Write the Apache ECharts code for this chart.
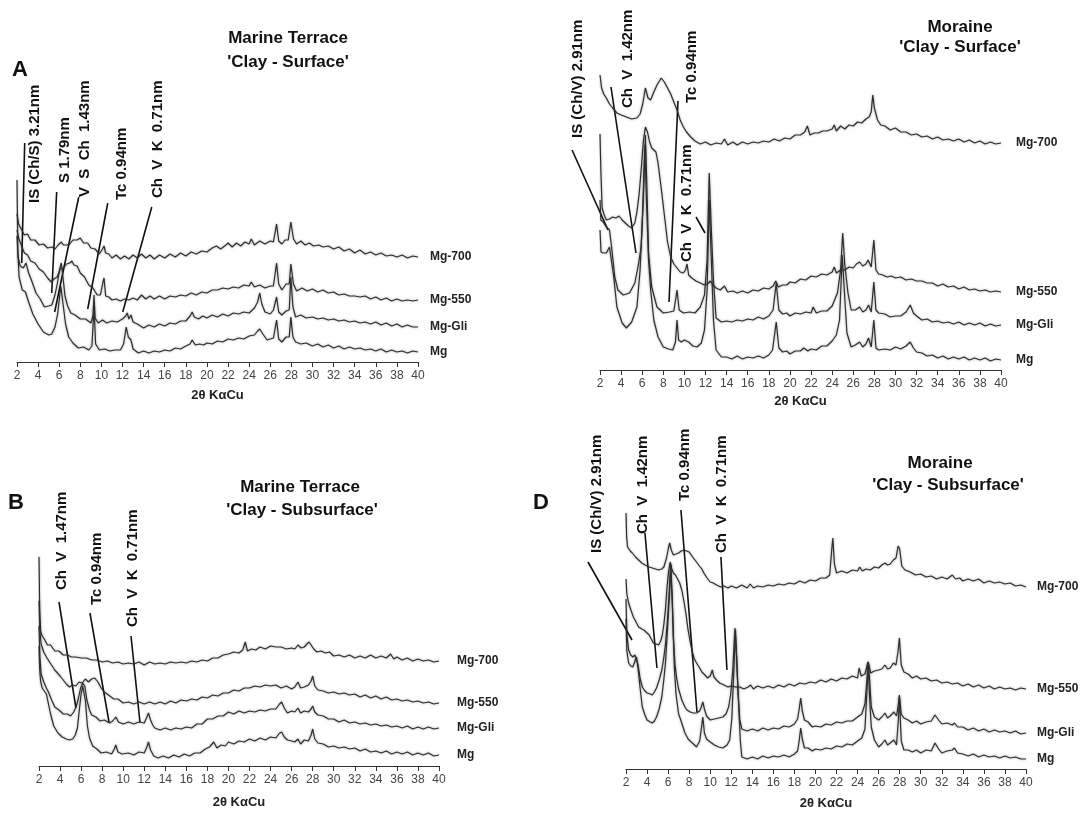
<!DOCTYPE html>
<html>
<head>
<meta charset="utf-8">
<script src="https://cdn.jsdelivr.net/npm/echarts@6/dist/echarts.min.js"></script>
<style>
html, body { margin: 0; padding: 0; background: #fff; }
#chart { width: 1087px; height: 816px; }
</style>
</head>
<body>
<div id="chart"></div>
<script>
// XRD patterns, [2θ, intensity offset]
// A - Marine Terrace, clay surface
const A_MG700 = [[2.0,148],[2.15,138],[2.4,133],[2.7,127],[3.0,128],[3.3,122],[3.7,122],[4.1,117],[4.5,118],[4.9,114],[5.3,115],[5.6,113],[5.9,117],[6.2,120],[6.4,117],[6.7,117],[7.0,118],[7.3,122],[7.7,122],[8.0,124],[8.3,119],[8.7,119],[9.0,114],[9.4,113],[9.8,108],[10.1,113],[10.25,116],[10.4,109],[10.7,108],[11.0,104],[11.4,107],[11.8,103],[12.2,106],[12.6,103],[13.0,107],[13.4,104],[13.8,108],[14.2,104],[14.6,107],[15.0,103],[15.5,107],[16.0,104],[16.5,108],[17.0,105],[17.5,109],[18.0,106],[18.5,110],[19.0,108],[19.5,111],[20.0,110],[20.5,114],[20.9,116],[21.3,113],[21.8,117],[22.0,119],[22.4,115],[22.8,119],[23.2,116],[23.6,120],[24.0,118],[24.2,123],[24.5,117],[25.0,121],[25.5,118],[26.0,121],[26.3,120],[26.6,138],[26.8,121],[27.1,118],[27.4,122],[27.7,122],[27.95,140],[28.2,123],[28.5,118],[28.9,121],[29.3,117],[29.7,119],[30.1,116],[30.6,117],[31.0,115],[31.5,116],[32.0,113],[32.5,115],[33.0,111],[33.5,113],[34.0,109],[34.5,112],[35.0,108],[35.5,110],[36.0,107],[36.5,109],[37.0,106],[37.5,107],[38.0,105],[38.5,107],[39.0,104],[39.5,106],[40.0,105]];
const A_MG550 = [[2.0,132],[2.15,124],[2.4,117],[2.7,109],[3.0,107],[3.3,101],[3.7,99],[4.1,93],[4.5,90],[4.9,84],[5.25,80],[5.5,83],[5.8,85],[6.1,93],[6.4,94],[6.7,98],[7.0,99],[7.2,101],[7.4,97],[7.7,96],[8.0,89],[8.4,85],[8.8,77],[9.2,74],[9.6,67],[9.9,67],[10.15,80],[10.25,84],[10.4,66],[10.7,65],[11.0,62],[11.4,63],[11.8,61],[12.2,63],[12.6,62],[13.0,64],[13.4,62],[13.8,67],[14.2,63],[14.6,66],[15.0,63],[15.5,66],[16.0,63],[16.5,66],[17.0,65],[17.5,67],[18.0,66],[18.5,69],[19.0,67],[19.5,70],[20.0,69],[20.5,72],[21.0,72],[21.5,74],[22.0,73],[22.5,75],[23.0,74],[23.5,77],[24.0,76],[24.2,80],[24.5,75],[25.0,77],[25.5,74],[26.0,76],[26.3,76],[26.6,99],[26.8,78],[27.1,72],[27.5,78],[27.8,78],[27.95,98],[28.2,78],[28.5,71],[29.0,74],[29.5,71],[30.0,73],[30.5,70],[31.0,72],[31.5,69],[32.0,70],[32.5,67],[33.0,68],[33.5,66],[34.0,66],[34.5,65],[35.0,66],[35.5,63],[36.0,65],[36.5,62],[37.0,64],[37.5,61],[38.0,63],[38.5,61],[39.0,62],[39.5,61],[40.0,62]];
const A_MGGLI = [[2.0,126],[2.1,105],[2.3,96],[2.6,94],[2.85,99],[3.1,89],[3.4,81],[3.8,69],[4.2,63],[4.6,55],[5.0,56],[5.3,57],[5.6,67],[5.85,80],[6.05,93],[6.2,99],[6.35,85],[6.55,66],[6.8,56],[7.1,49],[7.5,47],[8.0,43],[8.5,43],[9.0,39],[9.2,46],[9.3,67],[9.4,44],[9.7,39],[10.1,42],[10.5,39],[11.0,41],[11.5,40],[12.0,43],[12.3,46],[12.45,49],[12.6,43],[12.8,47],[13.0,40],[13.4,38],[14.0,34],[14.5,37],[15.0,35],[15.5,38],[16.0,36],[16.5,39],[17.0,38],[17.5,41],[18.0,41],[18.4,46],[18.6,50],[18.8,45],[19.2,43],[19.6,46],[20.0,44],[20.5,47],[21.0,45],[21.5,48],[22.0,46],[22.5,49],[23.0,48],[23.5,50],[24.0,49],[24.5,54],[24.8,60],[25.0,69],[25.2,58],[25.5,50],[26.0,48],[26.3,52],[26.6,65],[26.8,50],[27.1,47],[27.5,51],[27.8,52],[27.95,85],[28.15,55],[28.4,45],[28.9,47],[29.4,44],[30.0,45],[30.5,43],[31.0,44],[31.5,42],[32.0,43],[32.5,41],[33.0,42],[33.5,40],[34.0,41],[34.5,39],[35.0,40],[35.5,38],[36.0,40],[36.5,37],[37.0,39],[37.5,36],[38.0,38],[38.5,35],[39.0,37],[39.5,35],[40.0,35]];
const A_MG = [[2.0,182],[2.08,110],[2.2,85],[2.5,72],[2.8,70],[3.1,60],[3.5,48],[4.0,38],[4.5,30],[5.0,27],[5.3,28],[5.6,35],[5.85,48],[6.0,62],[6.15,76],[6.25,78],[6.4,55],[6.6,38],[6.9,25],[7.3,19],[7.8,14],[8.3,15],[8.8,12],[9.1,16],[9.3,55],[9.45,18],[9.8,12],[10.3,13],[10.8,11],[11.3,12],[11.8,12],[12.1,18],[12.35,35],[12.55,25],[12.8,22],[13.0,13],[13.5,9],[14.0,11],[14.5,9],[15.0,11],[15.5,10],[16.0,12],[16.5,11],[17.0,14],[17.5,13],[18.0,16],[18.4,18],[18.6,22],[18.9,17],[19.3,18],[19.7,17],[20.0,19],[20.5,18],[21.0,21],[21.5,20],[22.0,23],[22.5,22],[23.0,24],[23.5,23],[24.0,26],[24.5,27],[24.8,31],[25.0,33],[25.3,28],[25.7,22],[26.0,23],[26.3,24],[26.6,42],[26.8,23],[27.1,20],[27.5,25],[27.8,25],[27.95,45],[28.15,25],[28.4,20],[28.9,18],[29.4,19],[30.0,16],[30.5,18],[31.0,15],[31.5,17],[32.0,14],[32.5,16],[33.0,13],[33.5,15],[34.0,13],[34.5,14],[35.0,12],[35.5,13],[36.0,11],[36.5,13],[37.0,10],[37.5,12],[38.0,10],[38.5,11],[39.0,9],[39.5,11],[40.0,10]];

// B - Marine Terrace, clay subsurface
const B_MG700 = [[2.0,209],[2.06,160],[2.15,135],[2.3,130],[2.5,127],[2.8,121],[3.1,121],[3.5,115],[3.9,115],[4.3,111],[4.7,111],[5.1,109],[5.5,109],[6.0,108],[6.5,108],[7.0,106],[7.5,106],[8.0,104],[8.5,105],[9.0,103],[9.5,104],[10.0,102],[10.5,103],[11.0,102],[11.5,104],[12.0,101],[12.5,104],[13.0,102],[13.5,103],[14.0,102],[14.5,104],[15.0,103],[15.5,104],[16.0,103],[16.5,105],[17.0,104],[17.5,106],[18.0,105],[18.5,108],[19.0,108],[19.5,111],[20.0,112],[20.5,114],[21.0,113],[21.35,116],[21.6,124],[21.8,115],[22.2,117],[22.6,116],[23.0,119],[23.5,117],[24.0,120],[24.5,119],[25.0,119],[25.5,117],[26.0,118],[26.3,117],[26.6,121],[26.9,118],[27.2,119],[27.45,122],[27.65,124],[27.85,121],[28.1,117],[28.4,114],[28.8,115],[29.2,113],[29.6,114],[30.0,110],[30.5,111],[31.0,109],[31.5,111],[32.0,108],[32.5,110],[33.0,108],[33.5,111],[34.0,108],[34.5,110],[35.0,108],[35.4,112],[35.7,107],[36.0,109],[36.5,106],[37.0,108],[37.5,105],[38.0,107],[38.5,105],[39.0,106],[39.5,104],[40.0,105]];
const B_MG550 = [[2.0,165],[2.08,135],[2.2,122],[2.45,114],[2.7,109],[3.0,104],[3.5,96],[4.0,90],[4.3,86],[4.6,82],[4.9,79],[5.2,81],[5.5,80],[5.8,84],[6.1,83],[6.4,87],[6.7,84],[7.0,87],[7.3,88],[7.6,84],[7.9,78],[8.2,74],[8.6,71],[9.1,67],[9.5,67],[10.0,63],[10.5,64],[11.0,62],[11.5,64],[12.0,62],[12.5,64],[13.0,62],[13.5,64],[14.0,62],[14.5,65],[15.0,63],[15.5,66],[16.0,65],[16.5,67],[17.0,66],[17.5,69],[18.0,68],[18.5,71],[19.0,70],[19.5,73],[20.0,73],[20.5,76],[21.0,75],[21.5,78],[22.0,78],[22.5,80],[23.0,79],[23.5,81],[24.0,80],[24.5,81],[25.0,78],[25.5,80],[26.0,77],[26.3,79],[26.6,84],[26.85,78],[27.2,79],[27.6,81],[27.85,85],[28.0,90],[28.2,80],[28.5,76],[29.0,75],[29.5,73],[30.0,74],[30.5,72],[31.0,73],[31.5,71],[32.0,72],[32.5,69],[33.0,71],[33.5,68],[34.0,70],[34.5,67],[35.0,69],[35.5,66],[36.0,67],[36.5,65],[37.0,66],[37.5,64],[38.0,65],[38.5,63],[39.0,64],[39.5,62],[40.0,63]];
const B_MGGLI = [[2.0,140],[2.08,110],[2.2,92],[2.45,84],[2.7,78],[2.9,74],[3.2,66],[3.5,59],[3.9,56],[4.3,52],[4.7,52],[5.0,50],[5.3,54],[5.55,60],[5.75,68],[5.95,78],[6.15,83],[6.35,80],[6.55,66],[6.8,56],[7.0,51],[7.4,49],[7.8,45],[8.2,46],[8.7,43],[9.0,45],[9.3,49],[9.55,44],[10.0,42],[10.5,44],[11.0,42],[11.5,44],[12.0,43],[12.25,49],[12.4,53],[12.6,46],[12.8,41],[13.0,38],[13.5,36],[14.0,38],[14.5,36],[15.0,38],[15.5,37],[16.0,39],[16.5,38],[17.0,42],[17.5,42],[18.0,47],[18.5,47],[19.0,50],[19.5,50],[20.0,54],[20.5,52],[21.0,55],[21.5,53],[22.0,55],[22.5,54],[23.0,56],[23.5,55],[24.0,57],[24.5,57],[24.85,62],[25.05,64],[25.3,58],[25.6,53],[26.0,55],[26.3,54],[26.6,58],[26.85,53],[27.2,55],[27.6,54],[27.85,57],[28.0,60],[28.2,54],[28.5,51],[29.0,50],[29.5,47],[30.0,47],[30.5,44],[31.0,46],[31.5,43],[32.0,44],[32.5,42],[33.0,43],[33.5,41],[34.0,42],[34.5,40],[35.0,41],[35.5,39],[36.0,40],[36.5,38],[37.0,40],[37.5,37],[38.0,39],[38.5,37],[39.0,39],[39.5,37],[40.0,38]];
const B_MG = [[2.0,120],[2.06,98],[2.15,85],[2.3,78],[2.5,75],[2.7,72],[2.9,62],[3.1,52],[3.4,40],[3.8,33],[4.2,29],[4.6,27],[4.9,26],[5.2,27],[5.45,31],[5.65,38],[5.85,58],[6.0,72],[6.15,80],[6.25,81],[6.4,66],[6.6,40],[6.8,28],[7.1,20],[7.5,17],[7.9,13],[8.4,14],[8.9,12],[9.15,17],[9.3,21],[9.5,14],[9.9,12],[10.5,13],[11.0,11],[11.5,14],[12.0,13],[12.25,19],[12.4,24],[12.6,16],[12.9,10],[13.3,8],[13.8,10],[14.3,8],[14.8,11],[15.3,9],[15.8,12],[16.3,10],[16.8,13],[17.3,13],[17.8,17],[18.2,19],[18.6,24],[18.9,18],[19.3,21],[19.7,20],[20.0,24],[20.5,22],[21.0,25],[21.5,24],[22.0,27],[22.5,25],[23.0,28],[23.5,26],[24.0,29],[24.5,28],[24.85,33],[25.05,34],[25.3,29],[25.6,26],[26.0,25],[26.3,24],[26.6,27],[26.85,22],[27.2,26],[27.6,25],[27.85,31],[28.0,37],[28.2,27],[28.5,23],[29.0,22],[29.5,19],[30.0,20],[30.5,18],[31.0,19],[31.5,17],[32.0,18],[32.5,15],[33.0,17],[33.5,14],[34.0,15],[34.5,13],[35.0,15],[35.5,12],[36.0,14],[36.5,12],[37.0,14],[37.5,11],[38.0,13],[38.5,11],[39.0,13],[39.5,10],[40.0,11]];

// C - Moraine, clay surface
const C_MG700 = [[2.0,295],[2.15,282],[2.35,276],[2.6,272],[2.9,266],[3.2,262],[3.6,257],[4.0,255],[4.5,253],[5.0,251],[5.5,252],[5.8,256],[6.05,266],[6.3,282],[6.55,272],[6.8,270],[7.1,278],[7.4,285],[7.8,292],[8.1,288],[8.4,282],[8.7,276],[9.0,268],[9.3,260],[9.6,250],[9.9,243],[10.2,238],[10.6,233],[11.0,229],[11.5,226],[12.0,228],[12.5,225],[13.0,227],[13.5,226],[13.8,231],[14.1,225],[14.6,228],[15.0,225],[15.5,228],[16.0,226],[16.5,228],[17.0,227],[17.5,229],[18.0,228],[18.5,231],[19.0,229],[19.5,232],[20.0,231],[20.5,235],[21.0,235],[21.4,238],[21.65,244],[21.9,235],[22.3,237],[22.7,237],[23.1,239],[23.5,239],[24.0,241],[24.2,245],[24.4,239],[24.8,244],[25.2,241],[25.6,245],[26.0,244],[26.4,248],[26.8,247],[27.2,251],[27.5,253],[27.7,258],[27.85,275],[28.0,262],[28.3,250],[28.6,245],[29.0,244],[29.5,240],[30.0,242],[30.5,238],[31.0,238],[31.5,235],[32.0,236],[32.5,233],[33.0,234],[33.5,231],[34.0,233],[34.5,230],[35.0,231],[35.5,229],[36.0,231],[36.5,228],[37.0,230],[37.5,227],[38.0,229],[38.5,226],[39.0,228],[39.5,226],[40.0,227]];
const C_MG550 = [[2.0,236],[2.08,200],[2.2,162],[2.4,155],[2.6,150],[2.9,151],[3.2,153],[3.5,152],[3.8,154],[4.1,150],[4.4,147],[4.7,144],[5.0,142],[5.3,147],[5.5,158],[5.7,175],[5.9,200],[6.1,228],[6.3,243],[6.5,238],[6.7,228],[6.9,222],[7.1,220],[7.3,218],[7.5,207],[7.8,182],[8.1,155],[8.4,128],[8.7,113],[9.0,106],[9.3,102],[9.6,98],[9.9,97],[10.1,100],[10.25,106],[10.4,95],[10.7,92],[11.1,89],[11.5,87],[11.9,85],[12.2,86],[12.45,89],[12.7,85],[13.0,82],[13.4,80],[13.8,84],[14.1,78],[14.6,79],[15.0,77],[15.5,79],[16.0,77],[16.5,80],[17.0,79],[17.5,82],[18.0,81],[18.4,84],[18.65,89],[18.9,83],[19.3,85],[19.7,85],[20.0,88],[20.5,87],[21.0,91],[21.5,90],[22.0,94],[22.5,93],[23.0,96],[23.5,95],[24.0,98],[24.2,103],[24.4,97],[24.8,100],[25.2,100],[25.6,103],[26.0,102],[26.3,106],[26.6,108],[26.9,104],[27.2,106],[27.4,110],[27.7,103],[27.95,130],[28.15,100],[28.4,96],[28.8,95],[29.2,93],[29.6,94],[30.0,92],[30.5,93],[31.0,90],[31.5,91],[32.0,89],[32.5,89],[33.0,87],[33.5,87],[34.0,84],[34.5,86],[35.0,83],[35.5,84],[36.0,81],[36.5,83],[37.0,80],[37.5,81],[38.0,79],[38.5,80],[39.0,78],[39.5,79],[40.0,78]];
const C_MGGLI = [[2.0,170],[2.08,150],[2.3,148],[2.6,143],[2.9,140],[3.1,123],[3.4,93],[3.7,80],[4.2,75],[4.8,77],[5.3,87],[5.6,103],[5.9,123],[6.1,170],[6.3,235],[6.45,180],[6.6,117],[6.9,83],[7.4,63],[8.0,57],[8.6,58],[9.0,59],[9.3,80],[9.5,60],[9.9,57],[10.5,58],[11.0,57],[11.5,63],[11.9,75],[12.15,110],[12.35,197],[12.55,140],[12.75,90],[13.0,52],[13.5,48],[14.0,49],[14.5,48],[15.0,50],[15.5,49],[16.0,51],[16.5,50],[17.0,53],[17.5,51],[18.0,54],[18.4,60],[18.7,87],[18.95,60],[19.3,56],[19.7,57],[20.0,54],[20.5,57],[21.0,56],[21.5,58],[22.0,57],[22.2,63],[22.5,57],[23.0,59],[23.5,59],[24.0,64],[24.5,77],[24.8,100],[25.0,137],[25.2,105],[25.5,77],[25.8,60],[26.2,60],[26.6,63],[26.9,58],[27.2,60],[27.45,65],[27.7,58],[27.95,88],[28.15,60],[28.4,57],[29.0,56],[29.5,53],[30.0,54],[30.5,54],[31.0,58],[31.4,65],[31.7,57],[32.0,54],[32.5,50],[33.0,51],[33.5,48],[34.0,49],[34.5,47],[35.0,48],[35.5,46],[36.0,48],[36.5,45],[37.0,47],[37.5,45],[38.0,47],[38.5,44],[39.0,46],[39.5,44],[40.0,45]];
const C_MG = [[2.0,140],[2.1,118],[2.3,117],[2.6,117],[2.9,123],[3.1,108],[3.3,93],[3.6,63],[4.1,47],[4.5,42],[5.0,48],[5.5,63],[5.8,100],[6.05,160],[6.25,225],[6.4,170],[6.6,110],[6.8,80],[7.1,50],[7.5,33],[8.0,23],[8.5,21],[8.9,20],[9.15,28],[9.3,50],[9.45,30],[9.7,28],[10.0,30],[10.4,28],[10.8,24],[11.2,23],[11.6,27],[11.9,40],[12.15,80],[12.35,170],[12.55,110],[12.75,50],[13.0,20],[13.5,13],[14.0,13],[14.5,11],[15.0,14],[15.5,11],[16.0,13],[16.5,12],[17.0,14],[17.5,12],[18.0,15],[18.35,20],[18.7,48],[18.95,22],[19.3,18],[19.7,19],[20.0,16],[20.5,19],[21.0,19],[21.3,22],[21.7,19],[22.0,21],[22.5,20],[23.0,24],[23.5,24],[24.0,29],[24.4,35],[24.7,50],[24.95,115],[25.15,80],[25.4,37],[25.8,23],[26.2,25],[26.6,28],[26.9,23],[27.2,26],[27.45,32],[27.7,23],[27.95,50],[28.15,22],[28.4,20],[29.0,21],[29.5,20],[30.0,23],[30.5,21],[31.0,24],[31.4,28],[31.7,22],[32.0,18],[32.5,17],[33.0,14],[33.5,15],[34.0,12],[34.5,14],[35.0,11],[35.5,13],[36.0,11],[36.5,13],[37.0,10],[37.5,12],[38.0,10],[38.5,12],[39.0,9],[39.5,11],[40.0,10]];

// D - Moraine, clay subsurface
const D_MG700 = [[2.0,256],[2.06,232],[2.15,222],[2.4,218],[2.6,216],[2.9,212],[3.2,209],[3.5,206],[3.8,204],[4.2,202],[4.5,201],[4.8,200],[5.1,199],[5.4,200],[5.6,202],[5.85,211],[6.05,222],[6.15,226],[6.3,219],[6.5,214],[6.75,215],[7.0,216],[7.25,218],[7.5,219],[7.75,218],[8.0,217],[8.2,214],[8.4,211],[8.7,207],[8.9,204],[9.2,200],[9.4,196],[9.7,191],[10.0,187],[10.3,186],[10.6,184],[11.0,182],[11.3,183],[11.7,181],[12.0,183],[12.5,181],[13.0,184],[13.5,181],[13.8,185],[14.1,181],[14.5,183],[15.0,182],[15.5,184],[16.0,183],[16.5,185],[17.0,184],[17.5,186],[18.0,185],[18.5,188],[19.0,186],[19.5,189],[20.0,188],[20.5,191],[21.0,191],[21.35,194],[21.55,220],[21.65,231],[21.8,205],[22.0,196],[22.5,198],[23.0,196],[23.5,199],[24.0,198],[24.2,202],[24.45,198],[24.8,200],[25.2,199],[25.6,202],[26.0,201],[26.3,204],[26.6,206],[26.85,204],[27.1,205],[27.4,209],[27.65,211],[27.85,223],[28.0,220],[28.2,203],[28.5,199],[29.0,197],[29.5,194],[30.0,195],[30.5,192],[31.0,193],[31.5,190],[32.0,192],[32.5,190],[33.0,194],[33.3,190],[33.7,191],[34.0,188],[34.5,190],[35.0,188],[35.5,190],[36.0,186],[36.5,188],[37.0,186],[37.5,187],[38.0,185],[38.5,186],[39.0,183],[39.5,184],[40.0,182]];
const D_MG550 = [[2.0,190],[2.08,175],[2.25,166],[2.5,158],[2.7,152],[2.95,147],[3.2,142],[3.5,140],[3.7,139],[4.0,136],[4.2,134],[4.4,130],[4.6,126],[4.85,125],[5.1,124],[5.3,128],[5.45,134],[5.6,145],[5.75,160],[5.9,182],[6.05,198],[6.2,207],[6.35,200],[6.5,196],[6.7,194],[6.9,190],[7.1,186],[7.3,179],[7.5,168],[7.7,155],[7.9,139],[8.1,127],[8.3,117],[8.5,110],[8.7,106],[9.0,101],[9.2,97],[9.5,94],[9.75,91],[10.0,93],[10.2,99],[10.35,92],[10.6,89],[10.9,86],[11.3,84],[11.7,82],[12.0,83],[12.4,82],[12.8,82],[13.2,80],[13.6,82],[13.85,84],[14.1,80],[14.5,83],[15.0,81],[15.5,83],[16.0,81],[16.5,84],[17.0,82],[17.5,85],[18.0,83],[18.5,86],[19.0,85],[19.5,87],[20.0,86],[20.5,89],[21.0,87],[21.5,90],[22.0,88],[22.5,91],[23.0,90],[23.5,93],[24.0,91],[24.15,101],[24.35,93],[24.7,95],[25.0,107],[25.25,96],[25.6,98],[26.0,99],[26.3,100],[26.6,104],[26.85,100],[27.1,101],[27.4,106],[27.65,104],[27.85,118],[27.97,131],[28.15,104],[28.4,97],[28.8,95],[29.2,91],[29.6,93],[30.0,90],[30.5,91],[31.0,88],[31.5,89],[32.0,86],[32.5,87],[33.0,85],[33.5,86],[34.0,83],[34.5,85],[35.0,82],[35.5,84],[36.0,81],[36.5,83],[37.0,80],[37.5,82],[38.0,80],[38.5,81],[39.0,79],[39.5,81],[40.0,80]];
const D_MGGLI = [[2.0,170],[2.08,135],[2.25,119],[2.45,114],[2.65,112],[2.85,114],[3.0,116],[3.15,104],[3.35,90],[3.55,82],[3.8,78],[4.0,76],[4.3,75],[4.5,74],[4.7,77],[4.9,81],[5.15,89],[5.4,99],[5.6,112],[5.75,125],[5.95,150],[6.1,175],[6.25,205],[6.4,170],[6.5,132],[6.65,105],[6.8,92],[7.0,80],[7.3,69],[7.6,62],[7.8,59],[8.1,57],[8.4,56],[8.7,56],[9.0,58],[9.15,62],[9.3,67],[9.45,60],[9.65,53],[10.0,49],[10.4,50],[10.8,51],[11.2,52],[11.5,55],[11.75,62],[11.95,75],[12.15,100],[12.35,141],[12.5,115],[12.65,75],[12.8,50],[13.0,40],[13.5,38],[14.0,40],[14.5,38],[15.0,41],[15.5,39],[16.0,41],[16.5,40],[17.0,43],[17.5,42],[18.0,45],[18.3,50],[18.45,60],[18.6,71],[18.75,58],[18.95,49],[19.3,47],[19.7,42],[20.0,43],[20.5,42],[21.0,45],[21.5,44],[22.0,47],[22.5,46],[23.0,48],[23.5,48],[24.0,52],[24.4,55],[24.7,65],[24.9,90],[25.0,107],[25.15,88],[25.3,62],[25.6,52],[26.0,49],[26.3,52],[26.6,56],[26.85,51],[27.1,53],[27.45,57],[27.7,53],[27.88,65],[27.97,74],[28.15,55],[28.4,51],[28.8,49],[29.2,46],[29.6,48],[30.0,45],[30.5,47],[31.0,48],[31.35,54],[31.7,49],[32.0,45],[32.5,46],[33.0,44],[33.2,46],[33.5,42],[34.0,42],[34.5,39],[35.0,41],[35.5,38],[36.0,40],[36.5,37],[37.0,39],[37.5,37],[38.0,38],[38.5,36],[39.0,38],[39.5,35],[40.0,36]];
const D_MG = [[2.0,150],[2.08,118],[2.25,106],[2.45,103],[2.65,102],[2.85,108],[3.0,112],[3.15,100],[3.35,80],[3.55,62],[3.8,54],[4.0,49],[4.3,47],[4.5,46],[4.7,48],[4.9,52],[5.15,60],[5.4,72],[5.6,90],[5.75,106],[5.95,140],[6.1,170],[6.25,200],[6.4,165],[6.5,132],[6.6,100],[6.75,75],[7.0,55],[7.2,49],[7.6,36],[7.9,30],[8.3,26],[8.7,22],[9.0,28],[9.15,40],[9.3,52],[9.45,36],[9.65,30],[10.0,27],[10.4,24],[10.8,22],[11.2,21],[11.6,24],[11.85,29],[12.05,50],[12.25,100],[12.4,139],[12.55,100],[12.7,66],[12.85,30],[13.0,12],[13.5,10],[14.0,12],[14.5,10],[15.0,13],[15.5,11],[16.0,13],[16.5,12],[17.0,14],[17.5,12],[18.0,15],[18.3,18],[18.45,28],[18.6,41],[18.75,30],[18.95,21],[19.3,21],[19.7,18],[20.0,20],[20.5,19],[21.0,21],[21.5,20],[22.0,23],[22.5,22],[23.0,25],[23.5,24],[24.0,28],[24.4,31],[24.7,40],[24.9,80],[25.0,106],[25.15,70],[25.3,42],[25.6,29],[26.0,22],[26.3,25],[26.6,29],[26.85,24],[27.1,26],[27.45,29],[27.7,24],[27.88,50],[27.97,72],[28.15,28],[28.4,19],[28.8,19],[29.2,17],[29.6,19],[30.0,16],[30.5,19],[31.0,18],[31.35,26],[31.7,20],[32.0,16],[32.5,18],[33.0,19],[33.2,21],[33.5,16],[34.0,15],[34.5,13],[35.0,15],[35.5,12],[36.0,14],[36.5,12],[37.0,13],[37.5,11],[38.0,13],[38.5,11],[39.0,12],[39.5,10],[40.0,10]];

// peak annotations: leader line [2θ1, y1, 2θ2, y2], label [2θ, y at text foot, text]
const A_LINES = [[2.73,219,2.45,99],[5.76,170,5.29,69],[7.85,165,5.57,50],[10.6,159,8.7,53],[14.77,155,12.02,50]];
const A_TEXT = [[3.68,159,'IS (Ch/S) 3.21nm'],[6.52,179,'S 1.79nm'],[8.42,165,'V  S  Ch  1.43nm'],[11.93,162,'Tc 0.94nm'],[15.33,164,'Ch  V  K  0.71nm']];
const B_LINES = [[3.9,164,5.51,58],[6.84,153,8.65,44],[10.74,130,11.59,44]];
const B_TEXT = [[4.18,176,'Ch  V  1.47nm'],[7.51,161,'Tc 0.94nm'],[10.93,139,'Ch  V  K  0.71nm']];
const C_LINES = [[-0.65,220,2.76,140],[3.04,283,5.41,117],[9.39,269,8.54,68],[11.1,153,11.95,137]];
const C_TEXT = [[-0.09,232,'IS (Ch/V) 2.91nm'],[4.65,262,'Ch  V  1.42nm'],[10.72,267,'Tc 0.94nm'],[10.25,108,'Ch  V  K  0.71nm']];
const D_LINES = [[-1.61,207,2.57,129],[3.8,236,4.94,101],[7.22,259,8.74,57],[11.02,212,11.59,99]];
const D_TEXT = [[-0.75,216,'IS (Ch/V) 2.91nm'],[3.61,235,'Ch  V  1.42nm'],[7.6,268,'Tc 0.94nm'],[11.12,216,'Ch  V  K  0.71nm']];

const TREATMENTS = ['Mg-700', 'Mg-550', 'Mg-Gli', 'Mg'];
const X_NAME = '2θ KαCu';

const FONT = 'Liberation Sans, Arial, Helvetica, sans-serif';

const panels = [
  { grid: { left: 17, top: 62, width: 401, height: 300 }, ymax: 300, nameGap: 27, endGap: 12,
    traces: [A_MG700, A_MG550, A_MGGLI, A_MG], lines: A_LINES, texts: A_TEXT },
  { grid: { left: 39, top: 466, width: 400, height: 300 }, ymax: 300, nameGap: 30, endGap: 18,
    traces: [B_MG700, B_MG550, B_MGGLI, B_MG], lines: B_LINES, texts: B_TEXT },
  { grid: { left: 600, top: 20, width: 401, height: 350 }, ymax: 350, nameGap: 25, endGap: 15,
    traces: [C_MG700, C_MG550, C_MGGLI, C_MG], lines: C_LINES, texts: C_TEXT },
  { grid: { left: 626, top: 469, width: 400, height: 300 }, ymax: 300, nameGap: 28, endGap: 11,
    traces: [D_MG700, D_MG550, D_MGGLI, D_MG], lines: D_LINES, texts: D_TEXT }
];

const grid = [], xAxis = [], yAxis = [], series = [];

panels.forEach(function (p, i) {
  grid.push(p.grid);
  xAxis.push({
    gridIndex: i, type: 'value', min: 2, max: 40, interval: 2,
    axisLine: { lineStyle: { color: '#333', width: 1 } },
    axisTick: { length: 5, lineStyle: { color: '#333' } },
    axisLabel: { color: '#444', fontSize: 12, margin: 8, fontFamily: FONT },
    splitLine: { show: false },
    name: X_NAME, nameLocation: 'middle', nameGap: p.nameGap,
    nameTextStyle: { fontWeight: 'bold', fontSize: 13, color: '#222', fontFamily: FONT }
  });
  yAxis.push({ gridIndex: i, type: 'value', min: 0, max: p.ymax, show: false });

  p.traces.forEach(function (d, k) {
    series.push({
      type: 'line', name: TREATMENTS[k], xAxisIndex: i, yAxisIndex: i,
      data: d, showSymbol: false, symbol: 'none', silent: true,
      lineStyle: { color: '#2e2e2e', width: 1.2, shadowColor: 'rgba(0,0,0,0.4)', shadowBlur: 2.5 },
      endLabel: { show: true, formatter: '{a}', distance: p.endGap, fontWeight: 'bold',
        fontSize: 12, color: '#222', fontFamily: FONT }
    });
  });

  // leader lines
  series.push({
    type: 'custom', xAxisIndex: i, yAxisIndex: i, silent: true,
    data: p.lines,
    renderItem: function (params, api) {
      const a = api.coord([api.value(0), api.value(1)]);
      const b = api.coord([api.value(2), api.value(3)]);
      return { type: 'line', shape: { x1: a[0], y1: a[1], x2: b[0], y2: b[1] },
        style: { stroke: '#111', lineWidth: 1.6 } };
    }
  });
  // vertical peak labels
  const texts = p.texts;
  series.push({
    type: 'custom', xAxisIndex: i, yAxisIndex: i, silent: true,
    data: texts.map(function (t) { return [t[0], t[1]]; }),
    renderItem: function (params, api) {
      const a = api.coord([api.value(0), api.value(1)]);
      return { type: 'text', x: a[0], y: a[1], rotation: Math.PI / 2,
        style: { text: texts[params.dataIndex][2], fill: '#111',
          font: 'bold 15px ' + FONT, align: 'left', verticalAlign: 'middle' } };
    }
  });
});

function title(x, y, str, size) {
  return { type: 'text', x: x, y: y,
    style: { text: str, fill: '#111', font: 'bold ' + size + 'px ' + FONT,
      align: 'center', verticalAlign: 'middle' } };
}

const chart = echarts.init(document.getElementById('chart'), null, { renderer: 'canvas' });
chart.setOption({
  animation: false,
  backgroundColor: '#fff',
  grid: grid, xAxis: xAxis, yAxis: yAxis, series: series,
  graphic: [
    title(288, 38, 'Marine Terrace', 17),
    title(288, 62, "'Clay - Surface'", 17),
    title(960, 27, 'Moraine', 17),
    title(960, 47, "'Clay - Surface'", 17),
    title(300, 487, 'Marine Terrace', 17),
    title(302, 510, "'Clay - Subsurface'", 17),
    title(940, 463, 'Moraine', 17),
    title(948, 485, "'Clay - Subsurface'", 17),
    title(20, 70, 'A', 22),
    title(16, 503, 'B', 22),
    title(541, 503, 'D', 22)
  ]
});
</script>
</body>
</html>
